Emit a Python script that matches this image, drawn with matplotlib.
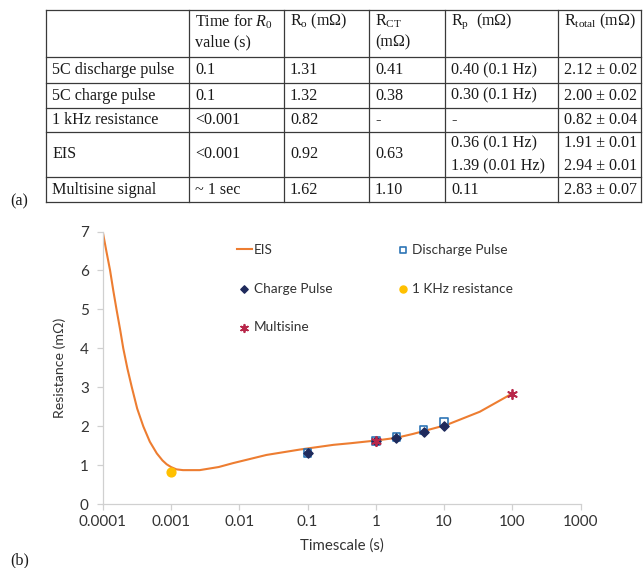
import matplotlib
matplotlib.use("Agg")
import matplotlib.pyplot as plt

plt.rcParams['mathtext.fontset'] = 'custom'
plt.rcParams['mathtext.rm'] = 'Liberation Serif'
plt.rcParams['mathtext.it'] = 'Liberation Serif:italic'

# ---------------- data ----------------
table_rows = ["5C discharge pulse", "5C charge pulse", "1 kHz resistance", "EIS", "Multisine signal"]
table_headers = ["", "Time for $R_0$\nvalue (s)", "R$_{\\mathrm{o}}$ (mΩ)", "R$_{\\mathrm{CT}}$\n(mΩ)",
                 "R$_{\\mathrm{p}}$  (mΩ)", "R$_{\\mathrm{total}}$ (mΩ)"]
time_r0 = ["0.1", "0.1", "<0.001", "<0.001", "~ 1 sec"]
r_o = ["1.31", "1.32", "0.82", "0.92", "1.62"]
r_ct = ["0.41", "0.38", "-", "0.63", "1.10"]
r_p = ["0.40 (0.1 Hz)", "0.30 (0.1 Hz)", "-", "0.36 (0.1 Hz)\n1.39 (0.01 Hz)", "0.11"]
r_total = ["2.12 ± 0.02", "2.00 ± 0.02", "0.82 ± 0.04", "1.91 ± 0.01\n2.94 ± 0.01", "2.83 ± 0.07"]

eis_t = [0.0001, 0.000113, 0.000128, 0.000143, 0.00016, 0.00018, 0.0002, 0.00023, 0.000266,
         0.00032, 0.000394, 0.00049, 0.00062, 0.00075, 0.000865, 0.001, 0.0012, 0.0015,
         0.00178, 0.00263, 0.005, 0.0081, 0.025, 0.078, 0.24, 0.42, 1.0, 2.0, 3.5,
         10.8, 33.3, 100.0]
eis_r = [7.0, 6.5, 6.01, 5.48, 4.98, 4.48, 4.0, 3.48, 3.01,
         2.45, 1.99, 1.60, 1.30, 1.12, 1.02, 0.95, 0.89, 0.87,
         0.87, 0.87, 0.95, 1.05, 1.26, 1.40, 1.52, 1.56, 1.63, 1.70, 1.80,
         2.03, 2.37, 2.84]

discharge_t = [0.1, 1, 2, 5, 10]
discharge_r = [1.31, 1.62, 1.72, 1.90, 2.11]
charge_t = [0.1, 1, 2, 5, 10]
charge_r = [1.32, 1.62, 1.70, 1.84, 2.00]
khz_t = [0.001]
khz_r = [0.82]
multisine_t = [1, 100]
multisine_r = [1.62, 2.83]

x_ticks = [0.0001, 0.001, 0.01, 0.1, 1, 10, 100, 1000]
x_ticklabels = ["0.0001", "0.001", "0.01", "0.1", "1", "10", "100", "1000"]
y_ticks = [0, 1, 2, 3, 4, 5, 6, 7]

# ---------------- figure ----------------
W, H = 643, 568
fig = plt.figure(figsize=(W / 100, H / 100), dpi=100)

# table overlay in pixel coordinates
tax = fig.add_axes([0, 0, 1, 1])
tax.set_xlim(0, W)
tax.set_ylim(H, 0)
tax.axis('off')

col_x = [46, 189, 284, 369, 445, 558, 641]
row_y = [10, 57, 83, 108, 132, 177, 202]
lc = '#3a3a3a'
for x in col_x:
    tax.plot([x, x], [row_y[0], row_y[-1]], color=lc, lw=0.9)
for y in row_y:
    tax.plot([col_x[0], col_x[-1]], [y, y], color=lc, lw=0.9)

serif = ['Liberation Serif', 'DejaVu Serif']
fs = 11.6
pad = 6


def cell_text(ci, ri_top, ri_bot, text, header=False):
    lines = text.split("\n")
    x = col_x[ci] + pad
    if header:
        ys = [21.5 + 21 * k for k in range(len(lines))]
    else:
        yc = (row_y[ri_top] + row_y[ri_bot]) / 2
        n = len(lines)
        ys = [yc + (k - (n - 1) / 2) * 23 for k in range(n)]
    for ln, y in zip(lines, ys):
        tax.text(x, y, ln, fontsize=fs, family=serif, color='#1a1a1a', va='center', ha='left')


for ci, h in enumerate(table_headers):
    if h:
        cell_text(ci, 0, 1, h, header=True)
cols = [table_rows, time_r0, r_o, r_ct, r_p, r_total]
for ci, col in enumerate(cols):
    for ri, val in enumerate(col):
        cell_text(ci, ri + 1, ri + 2, val)

tax.text(10, 201, "(a)", fontsize=fs, family=serif, color='#1a1a1a', va='center')
tax.text(10, 560, "(b)", fontsize=fs, family=serif, color='#1a1a1a', va='center')

# ---------------- chart ----------------
sans = ['Lato', 'DejaVu Sans']
x0, x1 = 102.7, 580.7
y0, y1 = 504, 231.5
ax = fig.add_axes([x0 / W, 1 - y0 / H, (x1 - x0) / W, (y0 - y1) / H])
ax.set_xscale('log')
ax.set_xlim(0.0001, 1000)
ax.set_ylim(0, 7)

eis_line, = ax.plot(eis_t, eis_r, color='#ED7D31', lw=1.5, label='EIS', zorder=2,
                    solid_joinstyle='round')
dis = ax.scatter(discharge_t, discharge_r, marker='s', s=30, facecolors='none',
                 edgecolors='#2E75B6', linewidths=1.2, label='Discharge Pulse', zorder=3)
chg = ax.scatter(charge_t, charge_r, marker='D', s=22, color='#1F2A5C', label='Charge Pulse', zorder=4)
khz = ax.scatter(khz_t, khz_r, marker='o', s=40, color='#FFC000', label='1 KHz resistance', zorder=4)
mul = ax.scatter(multisine_t, multisine_r, marker=(6, 2, 0), s=45, color='#B8274A',
                 linewidths=1.3, label='Multisine', zorder=5)

ax.set_xticks(x_ticks)
ax.set_xticklabels(x_ticklabels)
ax.set_yticks(y_ticks)
ax.xaxis.set_minor_locator(matplotlib.ticker.NullLocator())
for s in ['top', 'right']:
    ax.spines[s].set_visible(False)
for s in ['left', 'bottom']:
    ax.spines[s].set_color('#D0D0D0')
    ax.spines[s].set_linewidth(0.9)
ax.tick_params(axis='both', colors='#D0D0D0', labelcolor='#333333', length=4, width=0.9,
               labelsize=11)
ax.tick_params(axis='x', pad=4)
ax.tick_params(axis='y', pad=6)
for lab in ax.get_xticklabels() + ax.get_yticklabels():
    lab.set_family(sans)

ax.set_xlabel('Timescale (s)', fontsize=10.8, family=sans, color='#333333', labelpad=7)
ax.set_ylabel('Resistance (mΩ)', fontsize=10.2, family=sans, color='#333333', labelpad=10)

leg = ax.legend(handles=[eis_line, chg, mul, dis, khz], ncol=2, loc='upper left',
                bbox_to_anchor=((237 - x0) / (x1 - x0), (y0 - 244) / (y0 - y1)),
                frameon=False, borderpad=0, borderaxespad=0, labelspacing=1.95,
                handlelength=1.1, handletextpad=0.15, columnspacing=4.6,
                prop={'family': sans, 'size': 9.8}, scatterpoints=1, markerscale=0.8)
for t in leg.get_texts():
    t.set_color('#333333')

fig.savefig('out.png', dpi=100)
